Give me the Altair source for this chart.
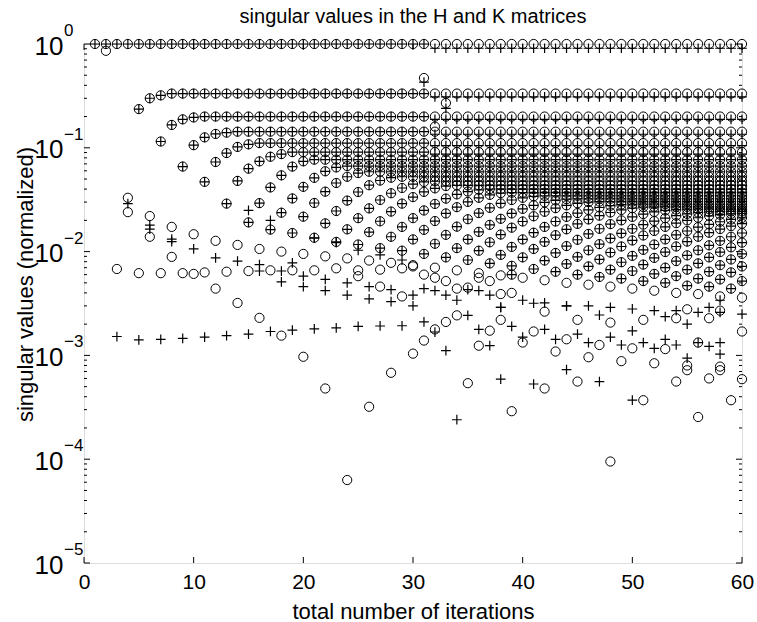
import altair as alt
import pandas as pd

FONT = "Liberation Sans"

# ---- singular value trajectories ----
# each chain: first iteration at which it appears, then its values (H matrix, circles)
# until it settles; afterwards it stays at its last value
chain_start = [1, 4, 6, 8, 10, 12, 14, 16, 18, 20, 22, 24, 26, 28, 30,
               32, 34, 36, 38, 40, 42, 44, 46, 48, 50, 52, 54, 56, 58, 60]
h_chain = [
    [1.0],
    [0.033, 0.236, 0.30, 0.32, 0.333],
    [0.022, 0.115, 0.166, 0.188, 0.196, 0.2],
    [0.0173, 0.066, 0.106, 0.126, 0.136, 0.140, 0.143],
    [0.0147, 0.047, 0.073, 0.089, 0.102, 0.108, 0.111],
    [0.0127, 0.029, 0.048, 0.063, 0.074, 0.082, 0.087, 0.0909],
    [0.0116, 0.0191, 0.0293, 0.0415, 0.0543, 0.0659, 0.0741, 0.0769],
    [0.0106, 0.0163, 0.0237, 0.0325, 0.0421, 0.0514, 0.0594, 0.0647, 0.0667],
    [0.0100, 0.0151, 0.0217, 0.0294, 0.0378, 0.0458, 0.0526, 0.0571, 0.0588],
    [0.0095, 0.0136, 0.0187, 0.0246, 0.0310, 0.0375, 0.0436, 0.0484, 0.0515, 0.0526],
    [0.0090, 0.0124, 0.0164, 0.0210, 0.0261, 0.0314, 0.0365, 0.0410, 0.0446, 0.0469, 0.0476],
    [0.0086, 0.0117, 0.0154, 0.0196, 0.0243, 0.0290, 0.0335, 0.0376, 0.0407, 0.0428, 0.0435],
    [0.0082, 0.0108, 0.0139, 0.0173, 0.0210, 0.0249, 0.0288, 0.0324, 0.0356, 0.0379, 0.0394, 0.0400],
    [0.0078, 0.0102, 0.0131, 0.0162, 0.0197, 0.0233, 0.0268, 0.0301, 0.0330, 0.0352, 0.0366, 0.0370],
    [0.0074, 0.0095, 0.0119, 0.0145, 0.0174, 0.0205, 0.0235, 0.0264, 0.0291, 0.0314, 0.0330, 0.0341, 0.0345],
    [0.0070, 0.0088, 0.0108, 0.0131, 0.0155, 0.0181, 0.0207, 0.0233, 0.0258, 0.0279, 0.0298, 0.0311, 0.0320, 0.0323],
    [0.0066, 0.0083, 0.0102, 0.0123, 0.0146, 0.0170, 0.0195, 0.0219, 0.0242, 0.0262, 0.0279, 0.0292, 0.0300, 0.0303],
    [0.0062, 0.0077, 0.0093, 0.0111, 0.0131, 0.0152, 0.0173, 0.0195, 0.0216, 0.0235, 0.0252, 0.0266, 0.0277, 0.0284, 0.0286],
    [0.0059, 0.0073, 0.0088, 0.0106, 0.0124, 0.0144, 0.0164, 0.0185, 0.0204, 0.0222, 0.0238, 0.0252, 0.0262, 0.0268, 0.0270],
    [0.0056, 0.0068, 0.0082, 0.0097, 0.0113, 0.0130, 0.0148, 0.0166, 0.0184, 0.0200, 0.0216, 0.0230, 0.0241, 0.0249, 0.0254, 0.0256],
    [0.0053, 0.0064, 0.0076, 0.0089, 0.0103, 0.0118, 0.0134, 0.0150, 0.0166, 0.0182, 0.0197, 0.0210, 0.0222, 0.0231, 0.0238, 0.0242, 0.0244],
    [0.0050, 0.0060, 0.0072, 0.0084, 0.0098, 0.0112, 0.0128, 0.0143, 0.0158, 0.0173, 0.0188, 0.0200, 0.0212, 0.0221, 0.0227, 0.0231, 0.0233],
    [0.0048, 0.0057, 0.0067, 0.0079, 0.0091, 0.0104, 0.0117, 0.0131, 0.0145, 0.0158, 0.0172, 0.0183, 0.0194, 0.0204, 0.0211],
    [0.0046, 0.0055, 0.0065, 0.0075, 0.0087, 0.0099, 0.0112, 0.0125, 0.0139, 0.0152, 0.0165, 0.0176, 0.0186],
    [0.0044, 0.0052, 0.0061, 0.0070, 0.0081, 0.0092, 0.0103, 0.0115, 0.0127, 0.0139, 0.0151],
    [0.0042, 0.0050, 0.0058, 0.0067, 0.0077, 0.0088, 0.0099, 0.0110, 0.0122],
    [0.0040, 0.0047, 0.0055, 0.0064, 0.0074, 0.0084, 0.0095],
    [0.0039, 0.0046, 0.0054, 0.0063, 0.0072],
    [0.0037, 0.0044, 0.0052],
    [0.0036],
]
# K matrix (pluses): first value of each chain differs, then it follows H
k_chain_first = [1.0, 0.029, 0.018, 0.0132, 0.0106, 0.0087, 0.0081, 0.0075, 0.0065, 0.0058,
                 0.0054, 0.0050, 0.0046, 0.0043, 0.0038, 0.0042, 0.0034, 0.0042, 0.0029, 0.0034,
                 0.0032, 0.0030, 0.0030, 0.0029, 0.0028, 0.0027, 0.0027, 0.0026, 0.0026, 0.0025]
# from iteration 32 on, the K values of the top rows sit a little below the H ones
k_late_from = 32
k_late_levels = [0.91, 0.31, 0.188, 0.135, 0.105, 0.087]

# scattered values (iteration, value)
h_extra = [
    (2, 0.86),
    (3, 0.0068), (5, 0.0062), (7, 0.0062), (9, 0.0062), (11, 0.0063), (13, 0.0064), (15, 0.0065),
    (17, 0.0066), (19, 0.0066), (21, 0.0066), (23, 0.0069), (25, 0.0066), (27, 0.0067), (29, 0.0069),
    (31, 0.0060), (33, 0.0052), (35, 0.0045), (37, 0.0052), (39, 0.0060),
    (4, 0.024), (6, 0.0139), (8, 0.0089), (10, 0.0061), (12, 0.0044), (14, 0.0032), (16, 0.0023),
    (18, 0.00155), (20, 0.00097), (22, 0.00048), (24, 0.000063), (26, 0.00032), (28, 0.00068),
    (30, 0.00104), (31, 0.00139), (32, 0.00178), (33, 0.0021), (34, 0.00243),
    (25, 0.0058), (27, 0.0046), (29, 0.0037), (32, 0.0056), (34, 0.0044), (36, 0.0056), (38, 0.0039),
    (39, 0.0040), (30, 0.0072),
    (35, 0.00054), (36, 0.00124), (37, 0.00173), (38, 0.0022), (39, 0.00029), (40, 0.00133),
    (41, 0.0017), (42, 0.00264), (42, 0.00048), (43, 0.00109), (44, 0.00143), (45, 0.0022),
    (45, 0.00056), (46, 0.00096), (47, 0.00126), (48, 0.00207), (48, 0.000095), (49, 0.00088),
    (50, 0.00117), (51, 0.0022), (51, 0.00037), (52, 0.00084), (53, 0.00115), (54, 0.00228),
    (54, 0.00056), (55, 0.0008), (55, 0.00278), (56, 0.00133), (56, 0.000255), (57, 0.00228),
    (57, 0.0006), (58, 0.00078), (58, 0.0027), (59, 0.00037), (60, 0.00059), (60, 0.0017),
    (55, 0.00072), (58, 0.00072),
    (31, 0.47), (33, 0.27), (32, 0.16),
]
k_extra = [
    (31, 0.43), (33, 0.24),
    (3, 0.00152), (5, 0.00141), (7, 0.00143), (9, 0.00146), (11, 0.0015), (13, 0.00155),
    (15, 0.0016), (17, 0.0017), (19, 0.00175), (21, 0.0018), (23, 0.00184), (25, 0.0019),
    (27, 0.00192), (29, 0.00193), (31, 0.0021), (32, 0.00168), (35, 0.00243), (33, 0.00111),
    (34, 0.00024), (36, 0.00178), (37, 0.00124), (38, 0.00059), (38, 0.0029), (39, 0.0019),
    (40, 0.0015), (41, 0.00318), (41, 0.00053), (42, 0.00178), (43, 0.00143), (44, 0.0030),
    (44, 0.00073), (45, 0.0016), (46, 0.00133), (47, 0.00245), (47, 0.00056), (48, 0.0015),
    (49, 0.00126), (50, 0.00172), (50, 0.00037), (51, 0.00133), (52, 0.00117), (53, 0.00236),
    (53, 0.00143), (54, 0.00126), (55, 0.0020), (55, 0.00094), (56, 0.00133), (57, 0.0029),
    (57, 0.00122), (58, 0.00133), (58, 0.00103), (58, 0.0034),
    (6, 0.0165), (8, 0.0125), (16, 0.0065), (18, 0.0051), (20, 0.0046), (22, 0.0042),
    (24, 0.0038), (26, 0.0035), (28, 0.0033), (30, 0.0030),
    (15, 0.025), (17, 0.020), (19, 0.0078), (21, 0.0135), (23, 0.0122), (25, 0.0103),
    (27, 0.0093), (29, 0.0083), (31, 0.0044), (33, 0.0038), (35, 0.0043), (37, 0.0038), (39, 0.0060),
]

x_ticks = [0, 10, 20, 30, 40, 50, 60]
y_ticks = [1, 0.1, 0.01, 0.001, 0.0001, 0.00001]
y_exponents = ["0", "\u22121", "\u22122", "\u22123", "\u22124", "\u22125"]
title_text = "singular values in the H and K matrices"
x_title = "total number of iterations"
y_title = "singular values (normalized)"
n_last = 60

# ---- build tables ----
h_rows, k_rows = [], []
for c, (start, vals) in enumerate(zip(chain_start, h_chain)):
    for n in range(start, n_last + 1):
        i = n - start
        v = vals[i] if i < len(vals) else vals[-1]
        h_rows.append({"it": n, "sv": v})
        kv = k_chain_first[c] if i == 0 else v
        if c < len(k_late_levels) and n >= k_late_from:
            kv = k_late_levels[c]
        k_rows.append({"it": n, "sv": kv})
h_rows += [{"it": a, "sv": b} for a, b in h_extra]
k_rows += [{"it": a, "sv": b} for a, b in k_extra]
h_df = pd.DataFrame(h_rows)
k_df = pd.DataFrame(k_rows)

minor = [m * 10.0 ** e for e in range(-5, 0) for m in range(2, 10)]
xt_df = pd.DataFrame({"it": x_ticks})
yt_df = pd.DataFrame({"sv": y_ticks, "ex": y_exponents})
ym_df = pd.DataFrame({"sv": minor})

W, H = 658, 519
xs = alt.Scale(domain=[0, 60], nice=False, zero=False)
ys = alt.Scale(type="log", domain=[1e-5, 1], nice=False)

x_axis = alt.Axis(values=x_ticks, title=x_title, ticks=False, domain=False,
                  grid=False, labelFontSize=21, labelFont=FONT, labelPadding=8, labelFlush=False,
                  labelOverlap=False, labelColor="black", titleFont=FONT, titleFontSize=22,
                  titleFontWeight="normal", titleColor="black", titleBaseline="alphabetic", titleY=55)
y_axis = alt.Axis(values=y_ticks, labelExpr="'10'", title=y_title, ticks=False,
                  domain=False, grid=False, labelFontSize=26, labelFont=FONT, labelPadding=21,
                  labelFlush=False, labelOverlap=False, labelColor="black", labelBaseline="middle",
                  labelOffset=2, titleFont=FONT, titleFontSize=22, titleFontWeight="normal",
                  titleColor="black", titleBaseline="alphabetic", titleX=-52, titleY=240, titleAngle=270)

X = alt.X("it:Q", scale=xs, axis=x_axis)
Y = alt.Y("sv:Q", scale=ys, axis=y_axis)

circles = alt.Chart(h_df).mark_point(shape="circle", filled=False, size=85, color="black",
                                     strokeWidth=1.0, opacity=1).encode(x=X, y=Y)
PLUS = "M-1,0L1,0M0,-1L0,1"
pluses = alt.Chart(k_df).mark_point(shape=PLUS, filled=False, size=95, color="black",
                                    strokeWidth=1.2, opacity=1).encode(x=X, y=Y)

rule = dict(color="black", strokeWidth=1)
xt_bottom = alt.Chart(xt_df).mark_rule(**rule).encode(x=X, y=alt.value(H), y2=alt.value(H - 6))
xt_top = alt.Chart(xt_df).mark_rule(**rule).encode(x=X, y=alt.value(0), y2=alt.value(6))
yt_left = alt.Chart(yt_df).mark_rule(**rule).encode(y=Y, x=alt.value(0), x2=alt.value(6))
yt_right = alt.Chart(yt_df).mark_rule(**rule).encode(y=Y, x=alt.value(W), x2=alt.value(W - 6))
ym_left = alt.Chart(ym_df).mark_rule(**rule).encode(y=Y, x=alt.value(0), x2=alt.value(3))
ym_right = alt.Chart(ym_df).mark_rule(**rule).encode(y=Y, x=alt.value(W), x2=alt.value(W - 3))
exps = alt.Chart(yt_df).mark_text(align="left", baseline="middle", fontSize=17, font=FONT,
                                  dy=-13, color="black").encode(y=Y, x=alt.value(-20), text="ex:N")
title_mark = alt.Chart(alt.Data(values=[{"label": title_text}])).mark_text(
    align="center", baseline="alphabetic", fontSize=20, font=FONT, color="black").encode(
    x=alt.value(W / 2), y=alt.value(-21), text="label:N")

chart = alt.layer(circles, pluses, xt_bottom, xt_top, yt_left, yt_right, ym_left, ym_right,
                  exps, title_mark).properties(
    width=W, height=H,
    padding={"left": 84, "top": 44, "right": 15, "bottom": 59},
    autosize=alt.AutoSizeParams(type="none"),
).configure_view(stroke="black", strokeWidth=1).configure(background="white")

chart.save("out.html", embed_options={"renderer": "svg", "actions": False})
